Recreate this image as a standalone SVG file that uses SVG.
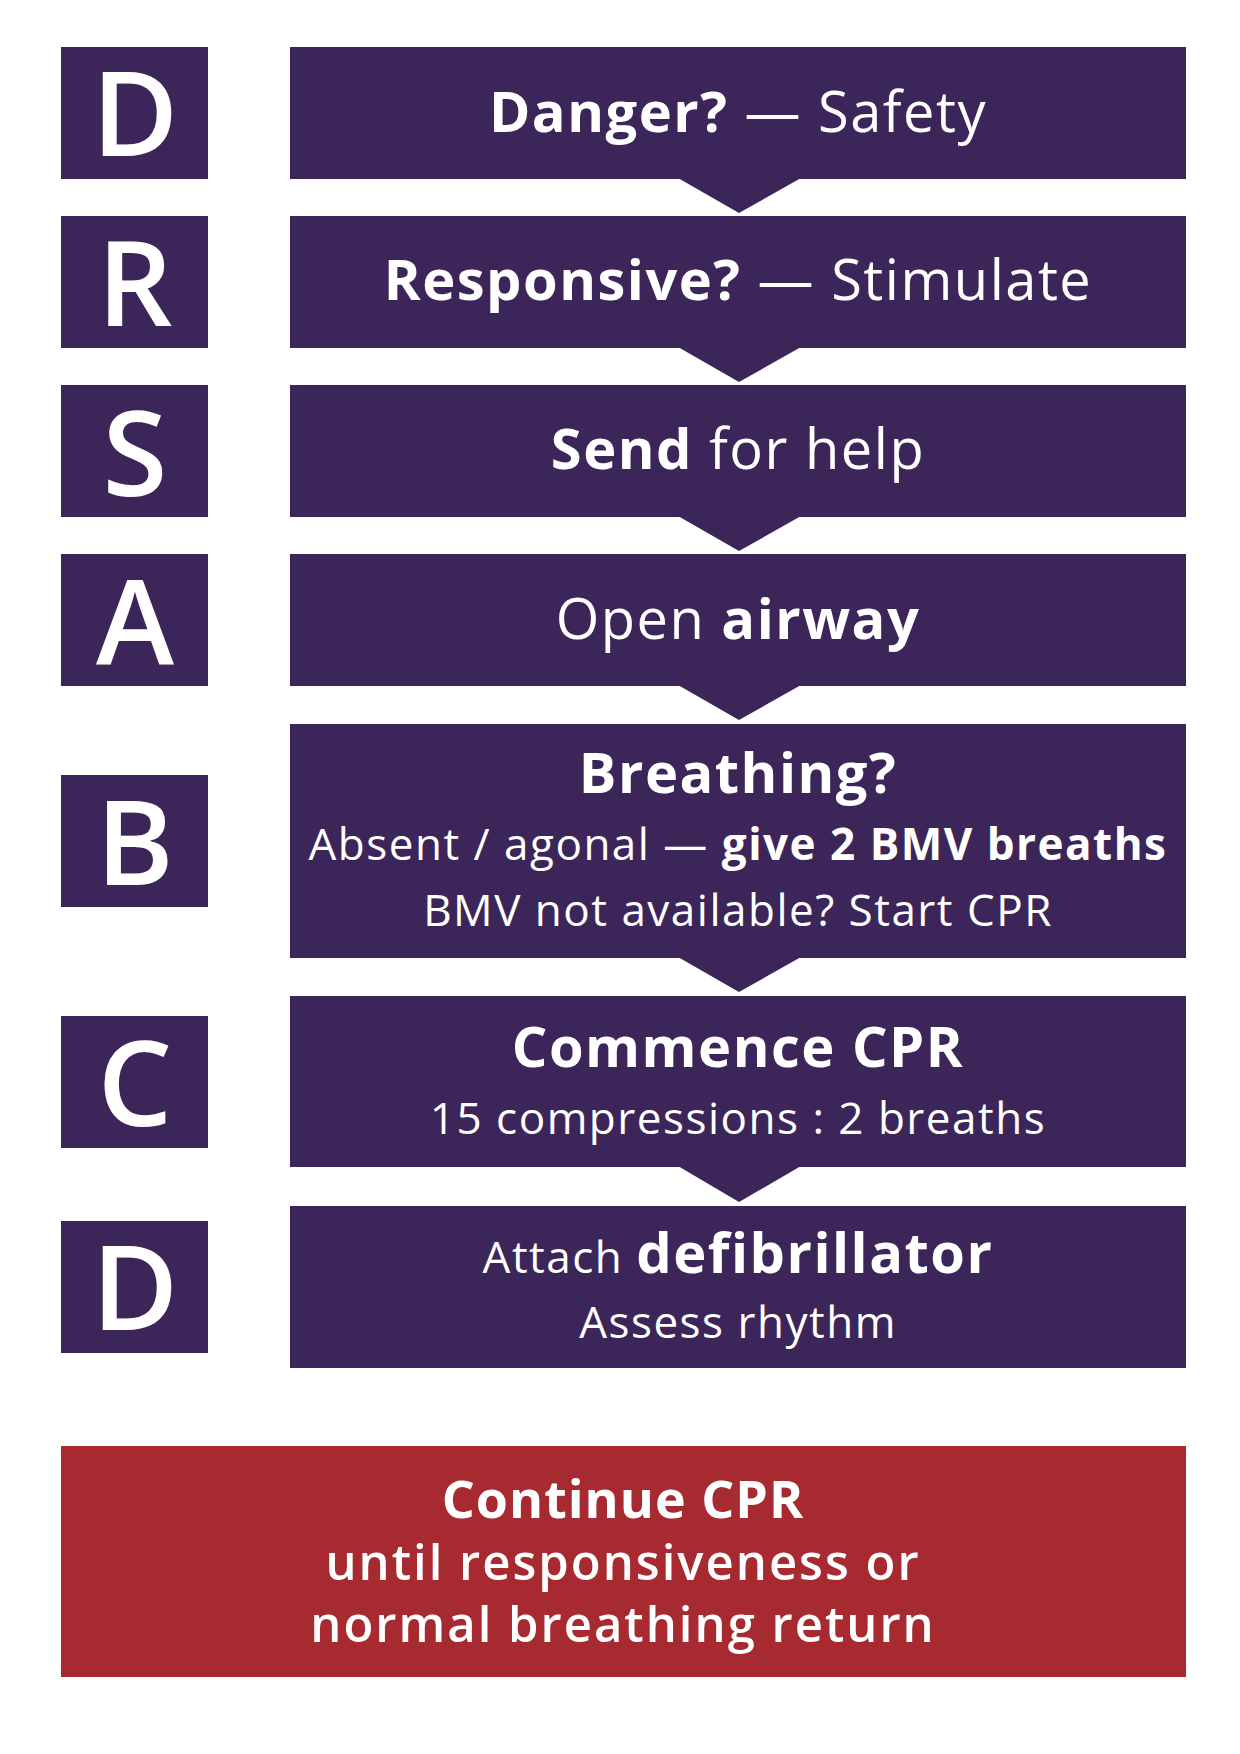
<svg xmlns="http://www.w3.org/2000/svg" width="1240" height="1754" viewBox="0 0 1240 1754">
<style>
.p{fill:#3c2659}.r{fill:#a62a30}
text{font-family:"Open Sans","Liberation Sans",sans-serif;fill:#fff;text-anchor:middle}
.L{font-size:118px;font-weight:600}
.t{font-size:56px;letter-spacing:1.5px}.b{font-weight:700}
.s{font-size:44px;letter-spacing:1.5px}
.w{font-size:52px;font-weight:700;letter-spacing:1px}
.w2{font-size:49px;font-weight:600;letter-spacing:2px}
</style>
<rect width="1240" height="1754" fill="#fff"/>
<g id="letters">
<g id="lD1"><rect class="p" x="61" y="47" width="147" height="132"/><text class="L" x="135" y="156">D</text></g>
<g id="lR"><rect class="p" x="61" y="216" width="147" height="132"/><text class="L" x="135" y="326">R</text></g>
<g id="lS"><rect class="p" x="61" y="385" width="147" height="132"/><text class="L" x="135" y="496">S</text></g>
<g id="lA"><rect class="p" x="61" y="554" width="147" height="132"/><text class="L" x="135" y="664">A</text></g>
<g id="lB"><rect class="p" x="61" y="775" width="147" height="132"/><text class="L" x="135" y="885">B</text></g>
<g id="lC"><rect class="p" x="61" y="1016" width="147" height="132"/><text class="L" x="135" y="1126">C</text></g>
<g id="lD2"><rect class="p" x="61" y="1221" width="147" height="132"/><text class="L" x="135" y="1330">D</text></g>
</g>
<g id="connectors">
<polygon class="p" points="678,178 801,178 739,213"/>
<polygon class="p" points="678,347 801,347 739,382"/>
<polygon class="p" points="678,516 801,516 739,551"/>
<polygon class="p" points="678,685 801,685 739,720"/>
<polygon class="p" points="678,957 801,957 739,992"/>
<polygon class="p" points="678,1166 801,1166 739,1202"/>
</g>
<g id="n1"><rect class="p" x="290" y="47" width="896" height="132"/><text class="t" x="738" y="132"><tspan class="b">Danger?</tspan> — Safety</text></g>
<g id="n2"><rect class="p" x="290" y="216" width="896" height="132"/><text class="t" x="738" y="300"><tspan class="b">Responsive?</tspan> — Stimulate</text></g>
<g id="n3"><rect class="p" x="290" y="385" width="896" height="132"/><text class="t" x="738" y="469"><tspan class="b">Send</tspan> for help</text></g>
<g id="n4"><rect class="p" x="290" y="554" width="896" height="132"/><text class="t" x="738" y="639">Open <tspan class="b">airway</tspan></text></g>
<g id="n5"><rect class="p" x="290" y="724" width="896" height="234"/><text class="t b" x="738" y="793">Breathing?</text><text class="s" x="738" y="860">Absent / agonal — <tspan class="b">give 2 BMV breaths</tspan></text><text class="s" x="738" y="926">BMV not available? Start CPR</text></g>
<g id="n6"><rect class="p" x="290" y="996" width="896" height="171"/><text class="t b" x="738" y="1067">Commence CPR</text><text class="s" x="738" y="1134">15 compressions : 2 breaths</text></g>
<g id="n7"><rect class="p" x="290" y="1206" width="896" height="162"/><text class="s" x="738" y="1273">Attach <tspan class="b" font-size="56">defibrillator</tspan></text><text class="s" x="738" y="1338">Assess rhythm</text></g>
<g id="n8"><rect class="r" x="61" y="1446" width="1125" height="231"/><text class="w" x="623" y="1518">Continue CPR</text><text class="w2" x="623" y="1580">until responsiveness or</text><text class="w2" x="623" y="1642">normal breathing return</text></g>
</svg>
